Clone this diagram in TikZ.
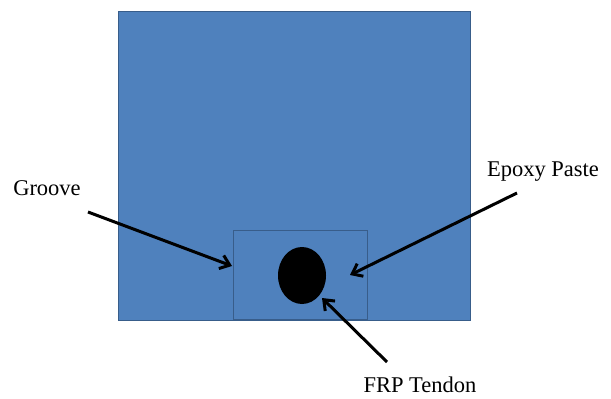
\documentclass[tikz,border=0pt]{standalone}
\usepackage{fontspec}
\setmainfont{Liberation Serif}
\usetikzlibrary{arrows.meta,shapes.geometric}
\definecolor{boxblue}{HTML}{4F81BD}
\definecolor{boxedge}{HTML}{385D8A}
\begin{document}
\begin{tikzpicture}[x=1pt,y=-1pt,
  lbl/.style={font=\fontsize{22.5}{26}\selectfont, inner sep=0pt, anchor=center},
  pointer/.style={line width=3pt, -{Straight Barb[length=9pt,width=14pt,line width=3pt]}}]
\useasboundingbox (0,0) rectangle (611,399);
\node[draw=boxedge, line width=1.2pt, fill=boxblue, minimum width=352pt, minimum height=309pt, inner sep=0pt, anchor=north west] (beam) at (118,10.5) {};
\node[draw=boxedge, line width=1pt, fill=boxblue, minimum width=134pt, minimum height=89pt, inner sep=0pt, anchor=north west] (groove) at (233,230) {};
\node[fill=black, ellipse, minimum width=48pt, minimum height=57pt, inner sep=0pt] (tendon) at (302,275.5) {};
\node[lbl] (lgroove) at (47,188) {Groove};
\node[lbl] (lepoxy) at (543,172) {Epoxy Paste};
\node[lbl] (lfrp) at (420,385) {FRP Tendon};
\coordinate (sgroove) at (88,212);
\coordinate (tgroove) at (232,266);
\coordinate (sepoxy) at (517,193);
\coordinate (tepoxy) at (350,275);
\coordinate (sfrp) at (387,362);
\coordinate (tfrp) at (322,298);
\draw[pointer] (sgroove) -- (tgroove);
\draw[pointer] (sepoxy) -- (tepoxy);
\draw[pointer] (sfrp) -- (tfrp);
\end{tikzpicture}
\end{document}
